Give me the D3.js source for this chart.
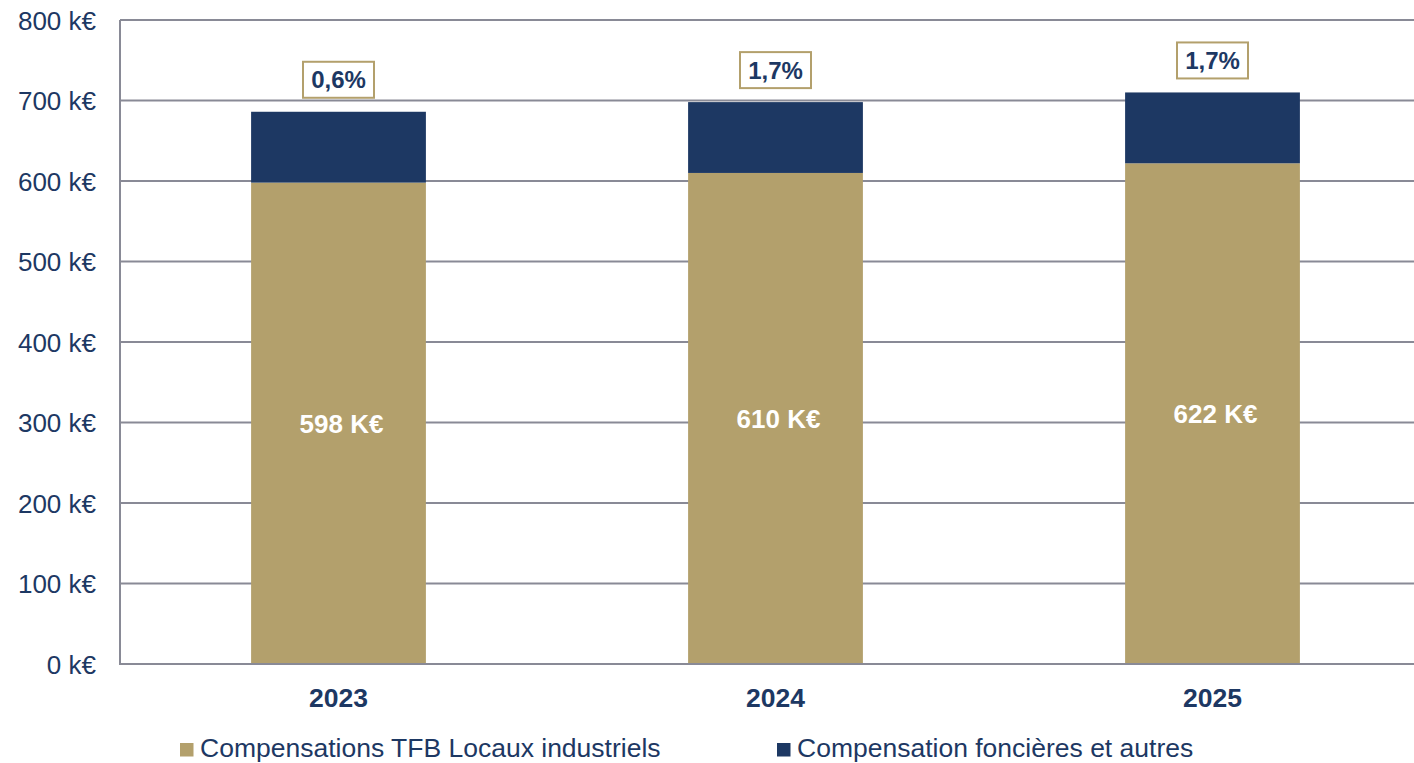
<!DOCTYPE html>
<html lang="fr">
<head>
<meta charset="UTF-8">
<title>Compensations</title>
<script src="https://d3js.org/d3.v7.min.js"></script>
<style>
  body { margin: 0; background: #fff; }
  text { font-family: "Liberation Sans", Arial, sans-serif; }
</style>
</head>
<body>
<div id="chart"></div>
<script>
var years = ["2023", "2024", "2025"];
var tfb = [598, 610, 622];
var autres = [88, 88, 88];
var evolution = ["0,6%", "1,7%", "1,7%"];
var yTicks = [0, 100, 200, 300, 400, 500, 600, 700, 800];
var seriesNames = ["Compensations TFB Locaux industriels", "Compensation foncières et autres"];

var W = 1414, H = 763;
var margin = {top: 20, right: 0, bottom: 99, left: 120};
var navy = "#1d3863", tan = "#b3a06c", grid = "#898a96";

var svg = d3.select("#chart").append("svg")
    .attr("width", W).attr("height", H);

var x = d3.scaleBand()
    .domain(years)
    .range([margin.left, 1431])
    .paddingInner(0.6)
    .paddingOuter(0.3);

var y = d3.scaleLinear()
    .domain([0, 800])
    .range([H - margin.bottom, margin.top]);

// gridlines
svg.append("g").selectAll("line")
    .data(yTicks.slice(1))
    .enter().append("line")
    .attr("x1", margin.left).attr("x2", W)
    .attr("y1", function(d) { return y(d); })
    .attr("y2", function(d) { return y(d); })
    .attr("stroke", grid).attr("stroke-width", 2);

// y labels
svg.append("g").selectAll("text")
    .data(yTicks)
    .enter().append("text")
    .attr("x", 96)
    .attr("y", function(d) { return y(d) + 9.5; })
    .attr("text-anchor", "end")
    .attr("fill", navy)
    .style("font-size", "26px")
    .text(function(d) { return d + " k€"; });

// bars
var data = years.map(function(d, i) { return {year: d, tfb: tfb[i], autres: autres[i], evo: evolution[i]}; });

svg.append("g").selectAll("rect")
    .data(data)
    .enter().append("rect")
    .attr("x", function(d) { return x(d.year); })
    .attr("y", function(d) { return y(d.tfb); })
    .attr("width", x.bandwidth())
    .attr("height", function(d) { return y(0) - y(d.tfb); })
    .attr("fill", tan);

svg.append("g").selectAll("rect")
    .data(data)
    .enter().append("rect")
    .attr("x", function(d) { return x(d.year); })
    .attr("y", function(d) { return y(d.tfb + d.autres); })
    .attr("width", x.bandwidth())
    .attr("height", function(d) { return y(d.tfb) - y(d.tfb + d.autres); })
    .attr("fill", navy);

// axes lines
svg.append("line")
    .attr("x1", margin.left).attr("x2", margin.left)
    .attr("y1", y(800)).attr("y2", y(0) + 1)
    .attr("stroke", grid).attr("stroke-width", 2);
svg.append("line")
    .attr("x1", margin.left - 1).attr("x2", W)
    .attr("y1", y(0)).attr("y2", y(0))
    .attr("stroke", grid).attr("stroke-width", 2);

// values inside bars
svg.append("g").selectAll("text")
    .data(data)
    .enter().append("text")
    .attr("x", function(d) { return x(d.year) + x.bandwidth() / 2 + 3; })
    .attr("y", function(d) { return (y(0) + y(d.tfb)) / 2 + 9.5; })
    .attr("text-anchor", "middle")
    .attr("fill", "#fff")
    .style("font-size", "26px").style("font-weight", "bold")
    .text(function(d) { return d.tfb + " K€"; });

// evolution boxes
var evo = svg.append("g").selectAll("g")
    .data(data)
    .enter().append("g")
    .attr("transform", function(d) {
        return "translate(" + (x(d.year) + x.bandwidth() / 2) + "," + (y(d.tfb + d.autres) - 32) + ")";
    });
evo.append("rect")
    .attr("x", -35.5).attr("y", -18)
    .attr("width", 71).attr("height", 36)
    .attr("fill", "#fff")
    .attr("stroke", tan).attr("stroke-width", 2);
evo.append("text")
    .attr("y", 8.5)
    .attr("text-anchor", "middle")
    .attr("fill", navy)
    .style("font-size", "24px").style("font-weight", "bold")
    .text(function(d) { return d.evo; });

// year labels
svg.append("g").selectAll("text")
    .data(years)
    .enter().append("text")
    .attr("x", function(d) { return x(d) + x.bandwidth() / 2; })
    .attr("y", 706.5)
    .attr("text-anchor", "middle")
    .attr("fill", navy)
    .style("font-size", "26.5px").style("font-weight", "bold")
    .text(function(d) { return d; });

// legend
var legendX = [180, 777];
var legendColors = [tan, navy];
var leg = svg.append("g").selectAll("g")
    .data(seriesNames)
    .enter().append("g")
    .attr("transform", function(d, i) { return "translate(" + legendX[i] + ",743)"; });
leg.append("rect")
    .attr("width", 13.5).attr("height", 13.5)
    .attr("fill", function(d, i) { return legendColors[i]; });
leg.append("text")
    .attr("x", 20).attr("y", 14)
    .attr("fill", navy)
    .style("font-size", "26.5px")
    .text(function(d) { return d; });
</script>
</body>
</html>
